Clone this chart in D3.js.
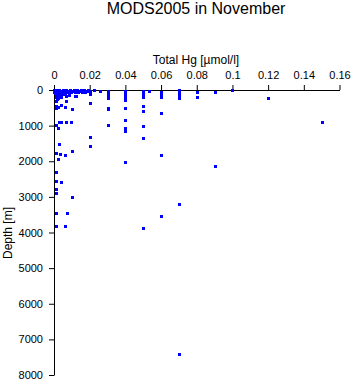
<!DOCTYPE html>
<html>
<head>
<meta charset="utf-8">
<script src="https://cdn.jsdelivr.net/npm/d3@7"></script>
<style>
  body { margin: 0; background: #fff; }
  text { font-family: "Liberation Sans", Arial, sans-serif; fill: #000; }
  .axis path, .axis line { stroke: #000; stroke-width: 1; }
</style>
</head>
<body>
<div id="chart"></div>
<script>
// [Total Hg (umol/l), depth (m)]
const surfacePoints = [
  [0, 0], [0.001, 10], [0.002, 20], [0.003, 5], [0.004, 15], [0.005, 10], [0.006, 25],
  [0.007, 10], [0.008, 20], [0.009, 5], [0.010, 15], [0.011, 10], [0.012, 20], [0.013, 10],
  [0.014, 15], [0.015, 5], [0.016, 20], [0.017, 10], [0.018, 15], [0.019, 10], [0.020, 20],
  [0.0015, 50], [0.0035, 55], [0.0055, 45], [0.0075, 50], [0.0095, 45], [0.0115, 50],
  [0.0135, 45], [0.0155, 50], [0.0175, 45], [0.0195, 40],
  [0.0225, 10], [0.026, 40], [0.03, 30], [0.04, 30], [0.05, 20], [0.053, 20], [0.06, 50],
  [0.07, 10], [0.07, 60], [0.08, 50], [0.09, 50], [0.10, 10],
  [0, 30], [0, 50], [0.001, 60], [0.002, 40], [0.003, 70], [0.004, 50], [0.002, 80],
  [0.0005, 90], [0.005, 60], [0.001, 120], [0.003, 110], [0.002, 150], [0.004, 140],
  [0.006, 90], [0.008, 50], [0.0045, 30], [0.001, 90], [0.003, 150], [0.004, 190],
  [0.002, 220], [0.0015, 250], [0.0025, 120], [0.005, 120]
]
const upperPoints = [
  [0.001, 200], [0.0035, 180], [0.0066, 170], [0.0084, 140], [0.0125, 170], [0.0118, 165],
  [0.001, 300], [0.0065, 310], [0.001, 450], [0.0038, 420], [0.0062, 490], [0.0103, 540],
  [0.0012, 500], [0.002, 480],
  [0.02, 60], [0.02, 110], [0.0201, 360], [0.03, 110], [0.03, 160], [0.03, 230], [0.03, 500],
  [0.03, 540], [0.03, 980],
  [0.04, 80], [0.04, 150], [0.04, 220], [0.04, 280], [0.04, 500], [0.04, 840], [0.04, 1080],
  [0.04, 1150], [0.04, 2010],
  [0.05, 100], [0.05, 150], [0.05, 200], [0.05, 440], [0.05, 590], [0.05, 1000], [0.05, 1360],
  [0.06, 100], [0.06, 150], [0.06, 200], [0.06, 655], [0.06, 1835], [0.06, 3550],
  [0.07, 100], [0.07, 140], [0.07, 215], [0.07, 3210], [0.07, 7415],
  [0.08, 190], [0.09, 2135], [0.12, 215], [0.15, 910], [0.05, 3885],
  [0.0202, 1330], [0.0202, 1570]
]
const deepPoints = [
  [0.001, 985], [0.0024, 1080], [0.0026, 910], [0.0037, 910], [0.0065, 890], [0.0094, 890],
  [0.0026, 1520], [0.001, 1760], [0.0034, 1800], [0.0063, 1830], [0.0103, 1720],
  [0.0024, 1950], [0.001, 2310], [0.001, 2560], [0.0042, 2590], [0.001, 2790],
  [0.001, 2880], [0.0103, 3010], [0.001, 3460], [0.0071, 3460], [0.001, 3820], [0.0063, 3810]
]
const xTicks = [0, 0.02, 0.04, 0.06, 0.08, 0.1, 0.12, 0.14, 0.16]
const yTicks = [0, 1000, 2000, 3000, 4000, 5000, 6000, 7000, 8000]

const data = surfacePoints.concat(upperPoints, deepPoints)

const svg = d3.select("#chart")
    .append("svg")
    .attr("width", 353)
    .attr("height", 384)

const x = d3.scaleLinear()
    .domain([0, 0.16])
    .range([54, 339.5])

const y = d3.scaleLinear()
    .domain([0, 8000])
    .range([90, 375])

svg.append("text")
    .attr("x", 196)
    .attr("y", 14)
    .attr("text-anchor", "middle")
    .style("font-size", "16px")
    .text("MODS2005 in November")

const xAxis = svg.append("g")
    .attr("class", "axis")
    .attr("transform", "translate(0, 90)")
    .call(d3.axisTop(x).tickValues(xTicks).tickSizeOuter(0).tickSizeInner(5).tickPadding(6)
        .tickFormat(d => d === 0 ? "0" : d3.format("")(+d.toFixed(2))))
xAxis.selectAll("text").style("font-size", "11px")

const yAxis = svg.append("g")
    .attr("class", "axis")
    .attr("transform", "translate(54, 0)")
    .call(d3.axisLeft(y).tickValues(yTicks).tickSizeOuter(0).tickSizeInner(5).tickPadding(6)
        .tickFormat(d3.format("d")))
yAxis.selectAll("text").style("font-size", "11px")
svg.selectAll(".axis text").attr("font-family", null).attr("font-size", null)

svg.append("text")
    .attr("x", 196)
    .attr("y", 64)
    .attr("text-anchor", "middle")
    .style("font-size", "12px")
    .text("Total Hg [µmol/l]")

svg.append("text")
    .attr("transform", "translate(12, 233) rotate(-90)")
    .attr("text-anchor", "middle")
    .style("font-size", "12px")
    .text("Depth [m]")

svg.append("g")
    .selectAll("rect")
    .data(data)
    .enter().append("rect")
    .attr("x", d => Math.round(x(d[0])) - 1)
    .attr("y", d => Math.round(y(d[1])) - 1)
    .attr("width", 3)
    .attr("height", 3)
    .attr("fill", "#0000ff")
    .attr("shape-rendering", "crispEdges")
</script>
</body>
</html>
